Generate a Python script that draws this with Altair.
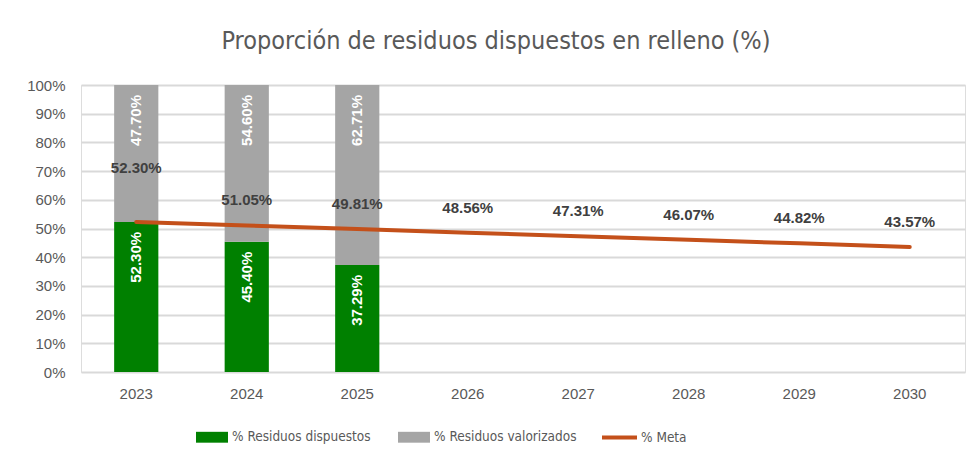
import altair as alt
import pandas as pd

years = ["2023", "2024", "2025", "2026", "2027", "2028", "2029", "2030"]
bar_years = ["2023", "2024", "2025"]
dispuestos = [52.30, 45.40, 37.29]
valorizados = [47.70, 54.60, 62.71]
meta = [52.30, 51.05, 49.81, 48.56, 47.31, 46.07, 44.82, 43.57]
series_names = ["% Residuos dispuestos", "% Residuos valorizados"]
meta_name = "% Meta"
bar_colors = ["#008000", "#A5A5A5"]
meta_color = "#C4501A"

rows = []
for i, yr in enumerate(bar_years):
    rows.append({"year": yr, "serie": series_names[0], "value": dispuestos[i], "orden": 0})
    rows.append({"year": yr, "serie": series_names[1], "value": valorizados[i], "orden": 1})
bars_df = pd.DataFrame(rows)
meta_df = pd.DataFrame({"year": years, "value": meta, "serie": [meta_name] * len(years)})

AX_FONT = "Liberation Sans"
NARROW = "'DejaVu Sans Condensed', 'Roboto', sans-serif"
GRAY_TXT = "#595959"

x_axis = alt.Axis(title=None, labelAngle=0, ticks=False, domain=False,
                  labelFont=AX_FONT, labelFontSize=15, labelColor=GRAY_TXT,
                  labelPadding=14)
x_scale = alt.Scale(domain=years, paddingInner=0.6, paddingOuter=0.3)
y_scale = alt.Scale(domain=[0, 100])
y_axis = alt.Axis(title=None, values=list(range(0, 101, 10)),
                  labelExpr="datum.value + '%'", ticks=False, domain=False,
                  grid=True, gridColor="#D9D9D9", gridWidth=2,
                  labelFont=AX_FONT, labelFontSize=15, labelColor=GRAY_TXT,
                  labelPadding=16, labelOverlap=False)


def X():
    return alt.X("year:N", sort=years, scale=x_scale, axis=x_axis)


def Y(field, **kw):
    return alt.Y(field, scale=y_scale, axis=y_axis, **kw)


bars = alt.Chart(bars_df).mark_bar().encode(
    x=X(),
    y=Y("value:Q", stack="zero"),
    fill=alt.Fill("serie:N",
                  scale=alt.Scale(domain=series_names, range=bar_colors),
                  legend=alt.Legend(title=None, orient="none", direction="horizontal",
                                    legendX=115, legendY=336,
                                    symbolType="M-1,-0.34H1V0.34H-1Z", symbolSize=1024,
                                    symbolStrokeWidth=0, labelOffset=4, columnPadding=27,
                                    labelFont=NARROW, labelFontSize=13.5, labelColor=GRAY_TXT,
                                    padding=0)),
    order=alt.Order("orden:Q"),
)

bar_labels = alt.Chart(bars_df).transform_stack(
    stack="value", groupby=["year"], as_=["y0", "y1"], sort=[alt.SortField("orden")]
).transform_calculate(
    label="format(datum.value, '.2f') + '%'"
).mark_text(angle=270, align="right", baseline="middle", dx=-10,
            font=AX_FONT, fontSize=15, fontWeight="bold", color="white").encode(
    x=X(),
    y=Y("y1:Q"),
    text="label:N",
)

line = alt.Chart(meta_df).mark_line(strokeWidth=4, strokeCap="round").encode(
    x=X(),
    y=Y("value:Q"),
    stroke=alt.Stroke("serie:N",
                      scale=alt.Scale(domain=[meta_name], range=[meta_color]),
                      legend=alt.Legend(title=None, orient="none", direction="horizontal",
                                        legendX=519, legendY=333,
                                        symbolType="stroke", symbolSize=1225,
                                        symbolStrokeWidth=4, labelOffset=2,
                                        labelFont=NARROW, labelFontSize=13.5,
                                        labelColor=GRAY_TXT, padding=0)),
)

meta_lab = alt.Chart(meta_df).transform_calculate(
    label="format(datum.value, '.2f') + '%'"
)
meta_text_rest = meta_lab.transform_filter("datum.year != '2023'").mark_text(
    dy=-25, baseline="middle", font=AX_FONT, fontSize=15, fontWeight="bold", color="#404040"
).encode(x=X(), y=Y("value:Q"), text="label:N")
meta_text_first = meta_lab.transform_filter("datum.year == '2023'").mark_text(
    dy=-54, baseline="middle", font=AX_FONT, fontSize=15, fontWeight="bold", color="#404040"
).encode(x=X(), y=Y("value:Q"), text="label:N")

chart = alt.layer(bars, bar_labels, line, meta_text_rest, meta_text_first).resolve_legend(
    fill="independent", stroke="independent"
).properties(
    width=884,
    height=287,
    autosize=alt.AutoSizeParams(type="none"),
    padding={"left": 73, "top": 77, "right": 3, "bottom": 85},
    title=alt.Title("Proporción de residuos dispuestos en relleno (%)",
                    font=NARROW, fontSize=25, fontWeight="normal", color=GRAY_TXT,
                    anchor="middle", offset=24, dx=-27),
).configure_view(stroke=None).configure(background="white")

chart.save("out.html", embed_options={"renderer": "svg", "actions": False})
